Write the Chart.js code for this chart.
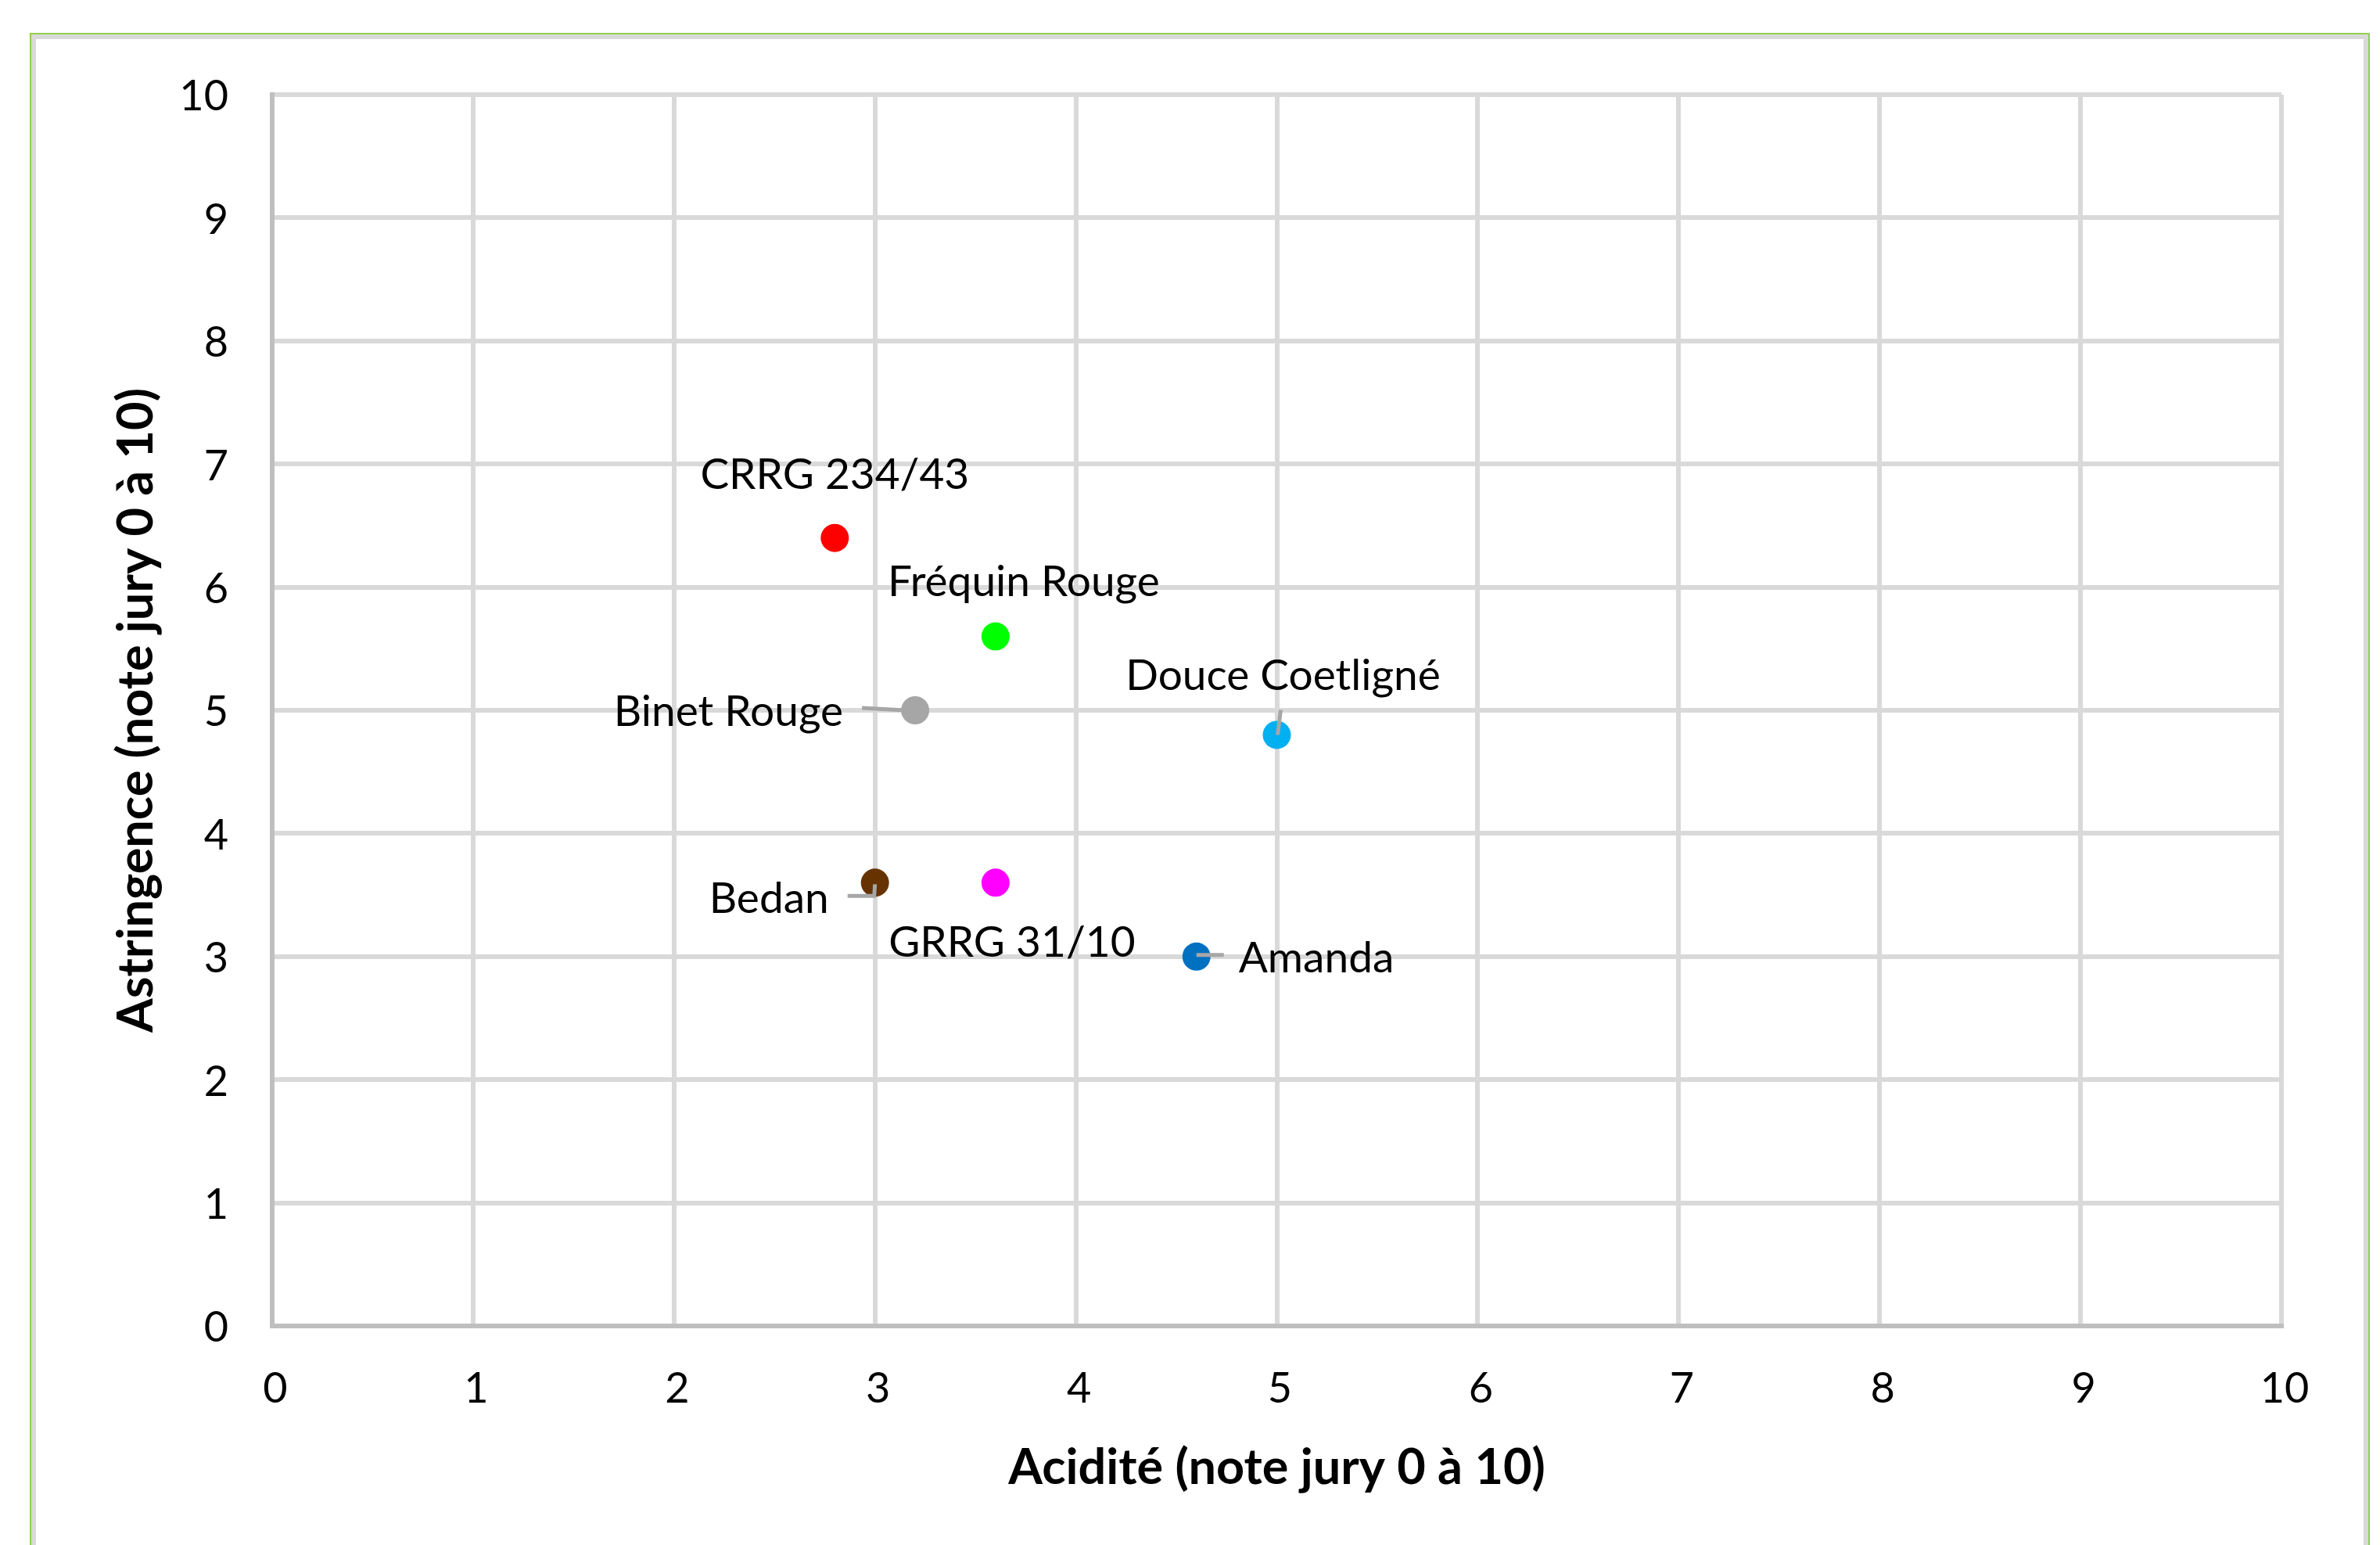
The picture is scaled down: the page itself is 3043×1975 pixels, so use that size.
<!DOCTYPE html>
<html>
<head>
<meta charset="utf-8">
<script src="https://cdn.jsdelivr.net/npm/chart.js@4/dist/chart.umd.min.js"></script>
<style>
html, body { margin: 0; padding: 0; background: #fff; overflow: hidden; }
#wrap { position: relative; width: 3043px; height: 1975px; }
#myChart { position: absolute; left: 0; top: 0; }
#frame {
    position: absolute; left: 38px; top: 42px; width: 2992px; height: 2100px;
    border: 2px solid #92d050; box-sizing: border-box;
    box-shadow: inset 0 0 0 6px #d9d9d9; pointer-events: none;
}
</style>
</head>
<body>
<div id="wrap">
    <canvas id="myChart" width="3043" height="1975"></canvas>
    <div id="frame"></div>
</div>
<script>
'use strict';

// data
const varieties = ['CRRG 234/43', 'Fréquin Rouge', 'Binet Rouge', 'Douce Coetligné', 'Bedan', 'GRRG 31/10', 'Amanda'];
const acidite = [2.8, 3.6, 3.2, 5.0, 3.0, 3.6, 4.6];
const astringence = [6.4, 5.6, 5.0, 4.8, 3.6, 3.6, 3.0];
const tickValues = [0, 1, 2, 3, 4, 5, 6, 7, 8, 9, 10];

const pointColors = ['#ff0000', '#00ff00', '#a6a6a6', '#00b0f0', '#663300', '#ff00ff', '#0070c0'];

// label placement relative to each point (pixels)
const labelLayout = [
    { align: 'center', dx: 0, dy: -63 },
    { align: 'center', dx: 36, dy: -52 },
    { align: 'right', dx: -92, dy: 20, leader: [[-68, -3], [-12, 0]] },
    { align: 'center', dx: 8, dy: -57, leader: [[5, -32], [1, 0]] },
    { align: 'right', dx: -59, dy: 39, leader: [[-35, 17], [-1, 17], [0, 2]] },
    { align: 'center', dx: 21, dy: 95 },
    { align: 'left', dx: 54, dy: 20, leader: [[0, -2], [35, -2]] },
];

const FONT = 'Lato';

const pointLabels = {
    id: 'pointLabels',
    afterDatasetsDraw: function(chart){
        const ctx = chart.ctx;
        ctx.save();
        ctx.font = '55px ' + FONT;
        ctx.fillStyle = '#000';
        ctx.textBaseline = 'alphabetic';
        chart.data.datasets.forEach(function(ds, i){
            const pt = chart.getDatasetMeta(i).data[0];
            const lay = labelLayout[i];
            if( lay.leader ){
                ctx.strokeStyle = '#a6a6a6';
                ctx.lineWidth = 5;
                ctx.beginPath();
                lay.leader.forEach(function(p, k){
                    if( k == 0 ) ctx.moveTo(pt.x + p[0], pt.y + p[1]);
                    else ctx.lineTo(pt.x + p[0], pt.y + p[1]);
                });
                ctx.stroke();
            }
            ctx.textAlign = lay.align;
            ctx.fillText(ds.label, pt.x + lay.dx, pt.y + lay.dy);
        });
        ctx.restore();
    }
};

const axisCommon = {
    type: 'linear',
    min: tickValues[0],
    max: tickValues[tickValues.length - 1],
    afterBuildTicks: function(scale){
        scale.ticks = tickValues.map(v => ({ value: v }));
    },
    grid: { color: '#d9d9d9', lineWidth: 6, drawTicks: false },
    border: { color: '#bfbfbf', width: 6 },
};

const ctx = document.getElementById('myChart');
var myChart = new Chart(ctx, {
    type: 'scatter',
    data: {
        datasets: varieties.map(function(name, i){
            return {
                label: name,
                data: [{ x: acidite[i], y: astringence[i] }],
                backgroundColor: pointColors[i],
                borderWidth: 0,
                pointRadius: 18,
            };
        })
    },
    options: {
        responsive: false,
        animation: false,
        devicePixelRatio: 1,
        layout: { padding: { left: 0, top: 121, right: 126, bottom: 0 } },
        plugins: {
            legend: { display: false },
            tooltip: { enabled: false },
        },
        scales: {
            x: Object.assign({}, axisCommon, {
                position: 'bottom',
                ticks: { color: '#000', font: { family: FONT, size: 54 }, padding: 48, labelOffset: 4 },
                title: {
                    display: true,
                    text: 'Acidité (note jury 0 à 10)',
                    color: '#000',
                    font: { family: FONT, size: 63, weight: 'bold' },
                    padding: { top: 0, bottom: 61 },
                },
                afterFit: function(scale){ scale.height = 280; },
            }),
            y: Object.assign({}, axisCommon, {
                position: 'left',
                ticks: { color: '#000', font: { family: FONT, size: 54 }, padding: 56, labelOffset: 3 },
                title: {
                    display: true,
                    text: 'Astringence (note jury 0 à 10)',
                    color: '#000',
                    font: { family: FONT, size: 63, weight: 'bold' },
                    padding: { top: 137, bottom: 0 },
                },
                afterFit: function(scale){ scale.width = 348; },
            }),
        }
    },
    plugins: [pointLabels]
});
</script>
</body>
</html>
